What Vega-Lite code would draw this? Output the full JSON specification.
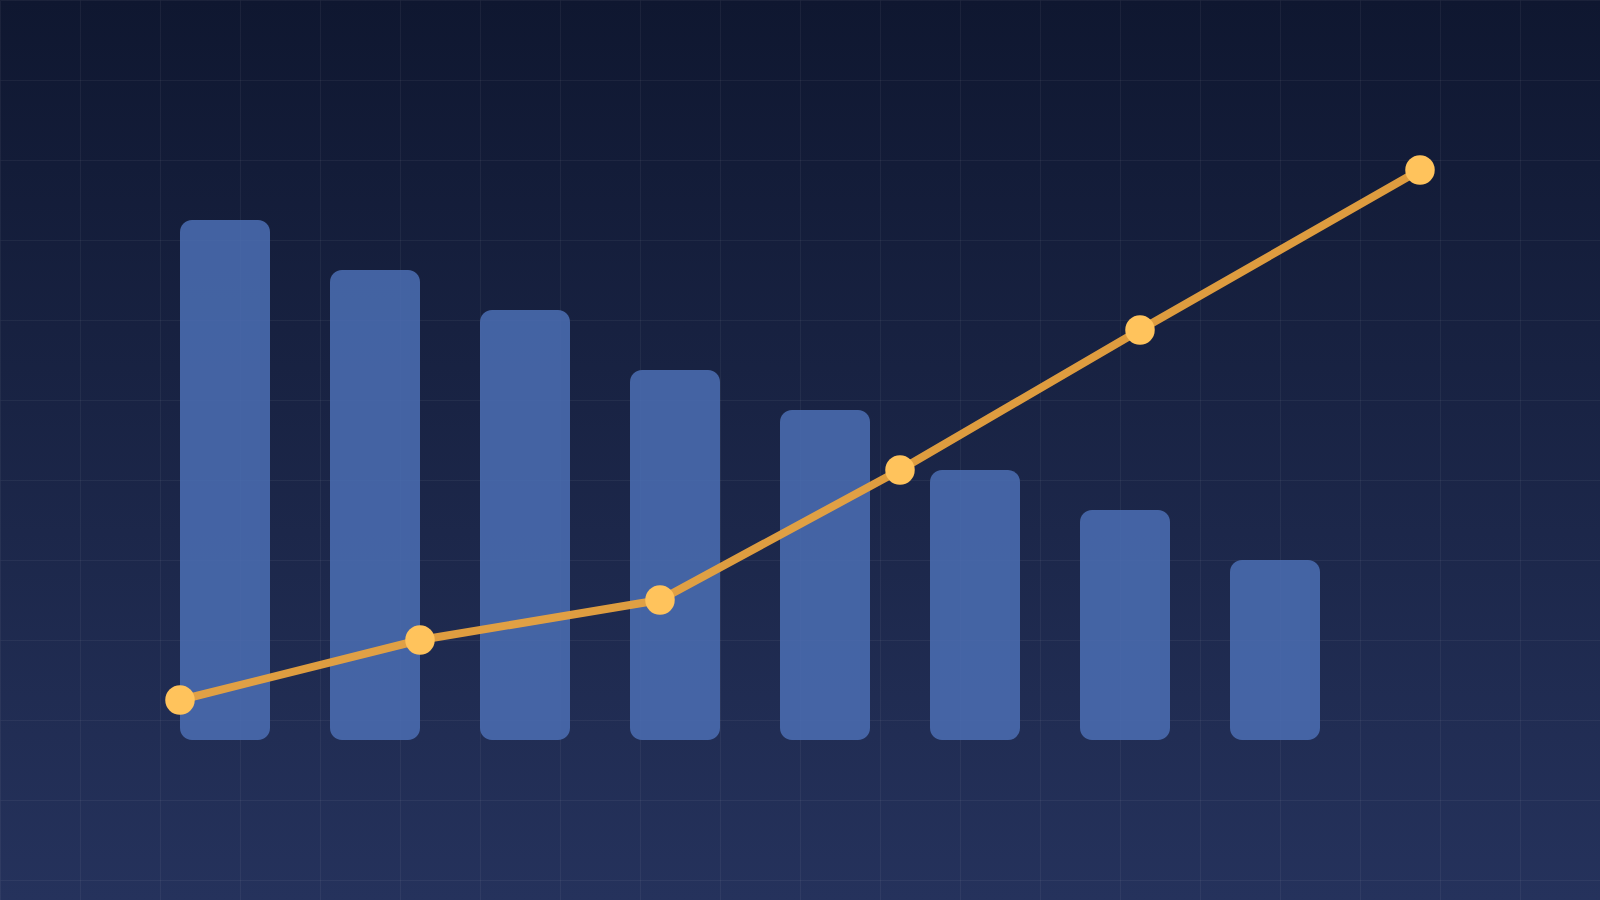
{
  "$schema": "https://vega.github.io/schema/vega-lite/v6.json",
  "width": 1600,
  "height": 900,
  "padding": 0,
  "autosize": {"type": "fit", "contains": "padding"},
  "background": "#1a2444",
  "config": {
    "view": {
      "stroke": null,
      "fill": {
        "gradient": "linear",
        "x1": 0, "y1": 0, "x2": 0, "y2": 1,
        "stops": [
          {"offset": 0, "color": "#0f1730"},
          {"offset": 1, "color": "#25325c"}
        ]
      }
    },
    "axis": {
      "domain": false,
      "ticks": false,
      "labels": false,
      "title": null,
      "grid": true,
      "gridColor": "#ffffff",
      "gridOpacity": 0.05,
      "gridWidth": 1
    }
  },
  "datasets": {
    "bars": [
      {"pos": 22.5, "value": 52},
      {"pos": 37.5, "value": 47},
      {"pos": 52.5, "value": 43},
      {"pos": 67.5, "value": 37},
      {"pos": 82.5, "value": 33},
      {"pos": 97.5, "value": 27},
      {"pos": 112.5, "value": 23},
      {"pos": 127.5, "value": 18}
    ],
    "trend": [
      {"pos": 18, "value": 4},
      {"pos": 42, "value": 10},
      {"pos": 66, "value": 14},
      {"pos": 90, "value": 27},
      {"pos": 114, "value": 41},
      {"pos": 142, "value": 57}
    ]
  },
  "layer": [
    {
      "data": {"name": "bars"},
      "mark": {"type": "bar", "width": 90, "cornerRadius": 12, "color": "#4a6cb0", "opacity": 0.88},
      "encoding": {
        "x": {
          "field": "pos", "type": "quantitative",
          "scale": {"domain": [0, 160], "nice": false, "zero": false, "padding": 0},
          "axis": {"values": [0, 8, 16, 24, 32, 40, 48, 56, 64, 72, 80, 88, 96, 104, 112, 120, 128, 136, 144, 152, 160]}
        },
        "y": {
          "field": "value", "type": "quantitative",
          "scale": {"domain": [-16, 74], "nice": false, "zero": false, "padding": 0},
          "axis": {"values": [74, 66, 58, 50, 42, 34, 26, 18, 10, 2, -6, -14]}
        },
        "y2": {"datum": 0}
      }
    },
    {
      "data": {"name": "trend"},
      "mark": {"type": "line", "color": "#e9a33f", "strokeWidth": 8, "opacity": 0.95, "strokeCap": "round", "strokeJoin": "round"},
      "encoding": {
        "x": {"field": "pos", "type": "quantitative"},
        "y": {"field": "value", "type": "quantitative"}
      }
    },
    {
      "data": {"name": "trend"},
      "mark": {"type": "point", "shape": "circle", "filled": true, "size": 870, "color": "#ffc35c", "opacity": 1},
      "encoding": {
        "x": {"field": "pos", "type": "quantitative"},
        "y": {"field": "value", "type": "quantitative"}
      }
    }
  ]
}
